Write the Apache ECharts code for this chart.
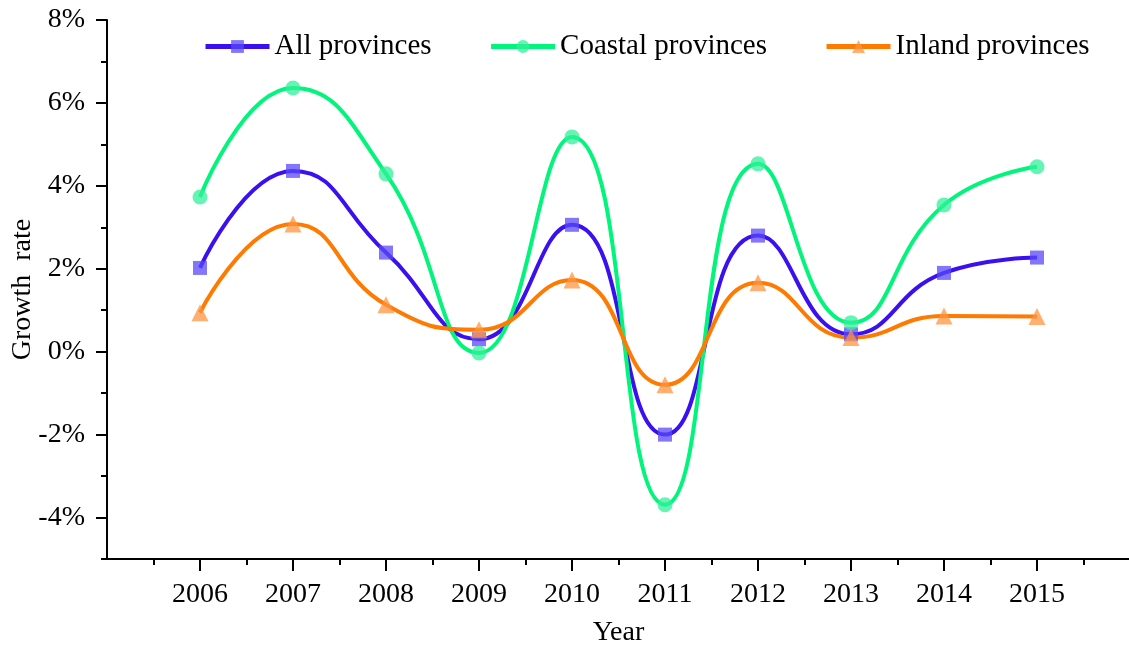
<!DOCTYPE html>
<html>
<head>
<meta charset="utf-8">
<script src="https://cdn.jsdelivr.net/npm/echarts@6/dist/echarts.min.js"></script>
<style>html,body{margin:0;padding:0;background:#fff}#c{width:1129px;height:648px}</style>
</head>
<body>
<div id="c"></div>
<script>
var years = [2006, 2007, 2008, 2009, 2010, 2011, 2012, 2013, 2014, 2015];
var allProv = [2.02, 4.36, 2.39, 0.3, 3.06, -2.0, 2.8, 0.42, 1.9, 2.27];
var coastal = [3.73, 6.36, 4.29, -0.03, 5.18, -3.69, 4.53, 0.7, 3.54, 4.46];
var inland = [0.94, 3.08, 1.13, 0.53, 1.73, -0.8, 1.66, 0.34, 0.86, 0.85];
var yMajor = [-4, -2, 0, 2, 4, 6, 8];
var yMinor = [-5, -3, -1, 1, 3, 5, 7];
var xMinor = [2005.5, 2006.5, 2007.5, 2008.5, 2009.5, 2010.5, 2011.5, 2012.5, 2013.5, 2014.5, 2015.5];

function pairs(vals) { return years.map(function (y, i) { return [y, vals[i]]; }); }

var font = 'Liberation Serif';
var chart = echarts.init(document.getElementById('c'), null, {renderer: 'canvas'});
var mk = function (name, vals, lineColor, symColor, symbol, size) {
  return {
    name: name, type: 'line', data: pairs(vals), smooth: 0.5,
    symbol: symbol, symbolSize: size, showSymbol: true,
    lineStyle: {color: lineColor, width: 4},
    itemStyle: {color: symColor, opacity: 0.75},
    emphasis: {disabled: true}, z: 3
  };
};
var tickStyle = {color: '#000', width: 2};
chart.setOption({
  animation: false,
  backgroundColor: '#fff',
  grid: {left: 107, top: 20, width: 1023, height: 539, containLabel: false, outerBoundsMode: 'none'},
  legend: {
    top: 27, left: 198, itemWidth: 64, itemHeight: 16, itemGap: 57,
    lineStyle: {width: 5},
    textStyle: {fontFamily: font, fontSize: 29, color: '#000'},
    data: ['All provinces', 'Coastal provinces', 'Inland provinces']
  },
  xAxis: [{
    type: 'value', min: 2005, max: 2016,
    name: 'Year', nameLocation: 'middle', nameGap: 60, nameMoveOverlap: false,
    nameTextStyle: {fontFamily: font, fontSize: 28, color: '#000'},
    axisLine: {onZero: false, lineStyle: tickStyle},
    axisTick: {show: true, length: 12, customValues: years, lineStyle: tickStyle},
    axisLabel: {fontFamily: font, fontSize: 28, color: '#000', margin: 22, customValues: years,
      formatter: function (v) { return String(v); }},
    splitLine: {show: false}
  }, {
    type: 'value', min: 2005, max: 2016, position: 'bottom',
    axisLine: {show: false, onZero: false},
    axisTick: {show: true, length: 6, customValues: xMinor, lineStyle: tickStyle},
    axisLabel: {show: false},
    splitLine: {show: false}
  }],
  yAxis: [{
    type: 'value', min: -5, max: 8,
    name: 'Growth  rate', nameLocation: 'middle', nameGap: 70, nameMoveOverlap: false,
    nameTextStyle: {fontFamily: font, fontSize: 28, color: '#000'},
    axisLine: {show: true, onZero: false, lineStyle: tickStyle},
    axisTick: {show: true, length: 11, customValues: yMajor, lineStyle: tickStyle},
    axisLabel: {fontFamily: font, fontSize: 28, color: '#000', margin: 22, customValues: yMajor,
      formatter: function (v) { return v + '%'; }},
    splitLine: {show: false}
  }, {
    type: 'value', min: -5, max: 8, position: 'left',
    axisLine: {show: false, onZero: false},
    axisTick: {show: true, length: 6, customValues: yMinor, lineStyle: tickStyle},
    axisLabel: {show: false},
    splitLine: {show: false}
  }],
  series: [
    mk('All provinces', allProv, '#3A10F0', '#5A48F8', 'rect', 14),
    mk('Coastal provinces', coastal, '#00F57A', '#30F09A', 'circle', 15),
    mk('Inland provinces', inland, '#FF7A00', '#FF9440', 'triangle', 17)
  ]
});
</script>
</body>
</html>
